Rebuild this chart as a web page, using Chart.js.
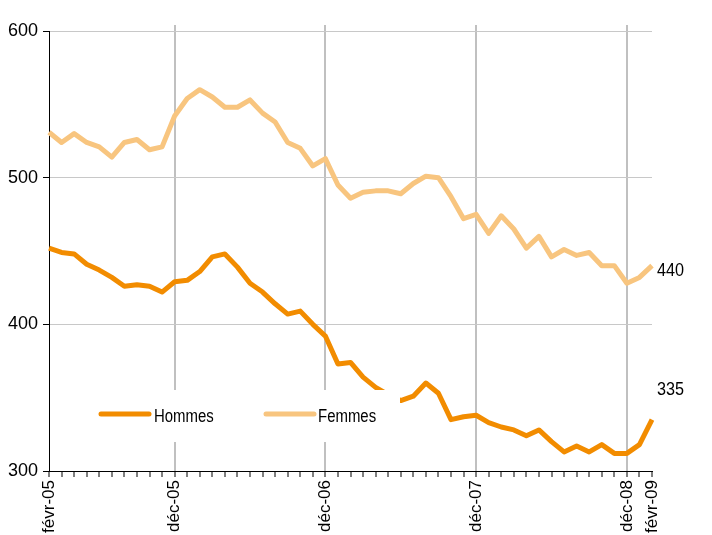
<!DOCTYPE html>
<html>
<head>
<meta charset="utf-8">
<script src="https://cdn.jsdelivr.net/npm/chart.js@4/dist/chart.umd.min.js"></script>
<style>
  html, body { margin: 0; padding: 0; background: #fff; }
  #wrap { width: 712px; height: 535px; }
</style>
</head>
<body>
<div id="wrap"><canvas id="c" width="712" height="535"></canvas></div>
<script>
// Monthly categories from févr-05 to févr-09
const categories = [
 'févr-05','mars-05','avr-05','mai-05','juin-05','juil-05','août-05','sept-05','oct-05','nov-05','déc-05',
 'janv-06','févr-06','mars-06','avr-06','mai-06','juin-06','juil-06','août-06','sept-06','oct-06','nov-06','déc-06',
 'janv-07','févr-07','mars-07','avr-07','mai-07','juin-07','juil-07','août-07','sept-07','oct-07','nov-07','déc-07',
 'janv-08','févr-08','mars-08','avr-08','mai-08','juin-08','juil-08','août-08','sept-08','oct-08','nov-08','déc-08',
 'janv-09','févr-09'
];
const shownLabels = ['févr-05','déc-05','déc-06','déc-07','déc-08','févr-09'];
const gridLabels = ['déc-05','déc-06','déc-07','déc-08'];

const hommes = [452,449,448,441,437,432,426,427,426,422,429,430,436,446,448,439,428,422,414,407,409,400,392,373,374,364,357,352,348,351,360,353,335,337,338,333,330,328,324,328,320,313,317,313,318,312,312,318,335];
const femmes = [531,524,530,524,521,514,524,526,519,521,542,554,560,555,548,548,553,544,538,524,520,508,513,495,486,490,491,491,489,496,501,500,487,472,475,462,474,465,452,460,446,451,447,449,440,440,428,432,440];

const yTicks = [300, 400, 500, 600];

const FONT = '"Liberation Sans", Arial, sans-serif';
const cHommes = '#F28C00';
const cFemmes = '#F8C57F';

function narrowText(ctx, text, x, y, sx) {
  ctx.save();
  ctx.translate(x, y);
  ctx.scale(sx, 1);
  ctx.fillText(text, 0, 0);
  ctx.restore();
}

const overlay = {
  id: 'overlay',
  beforeDatasetsDraw(chart) {
    const ctx = chart.ctx;
    const xs = chart.scales.x;
    const top = chart.chartArea.top;
    ctx.save();
    ctx.strokeStyle = '#c0c0c0';
    ctx.lineWidth = 2;
    categories.forEach((c, i) => {
      if (gridLabels.includes(c)) {
        const x = Math.round(xs.getPixelForValue(i));
        ctx.beginPath(); ctx.moveTo(x, top - 6); ctx.lineTo(x, top); ctx.stroke();
      }
    });
    ctx.restore();
  },
  afterDatasetsDraw(chart) {
    const ctx = chart.ctx;
    const xs = chart.scales.x, ys = chart.scales.y;
    ctx.save();
    // legend box
    ctx.fillStyle = '#ffffff';
    ctx.fillRect(90, 390, 310, 52);
    ctx.lineCap = 'round';
    ctx.lineWidth = 5;
    ctx.strokeStyle = cHommes;
    ctx.beginPath(); ctx.moveTo(101, 414); ctx.lineTo(149, 414); ctx.stroke();
    ctx.strokeStyle = cFemmes;
    ctx.beginPath(); ctx.moveTo(266, 414); ctx.lineTo(314, 414); ctx.stroke();
    ctx.fillStyle = '#000';
    ctx.font = '18px ' + FONT;
    ctx.textBaseline = 'middle';
    ctx.textAlign = 'left';
    narrowText(ctx, 'Hommes', 154, 417, 0.83);
    narrowText(ctx, 'Femmes', 318, 417, 0.83);
    // end value labels
    const last = categories.length - 1;
    const xe = xs.getPixelForValue(last);
    narrowText(ctx, String(femmes[last]), xe + 5, ys.getPixelForValue(femmes[last]) + 5, 0.9);
    narrowText(ctx, String(hommes[last]), xe + 5, ys.getPixelForValue(hommes[last]) - 30, 0.9);
    ctx.restore();
  }
};

new Chart(document.getElementById('c'), {
  type: 'line',
  data: {
    labels: categories,
    datasets: [
      { label: 'Hommes', data: hommes, borderColor: cHommes, borderWidth: 5, pointRadius: 0, tension: 0, borderJoinStyle: 'round', fill: false },
      { label: 'Femmes', data: femmes, borderColor: cFemmes, borderWidth: 5, pointRadius: 0, tension: 0, borderJoinStyle: 'round', fill: false }
    ]
  },
  options: {
    responsive: false,
    animation: false,
    layout: { padding: { top: 31, right: 60, left: 0, bottom: 0 } },
    plugins: { legend: { display: false }, tooltip: { enabled: false } },
    scales: {
      x: {
        type: 'category',
        offset: false,
        border: { color: '#000', width: 1 },
        grid: {
          color: (c) => (c.tick && gridLabels.includes(categories[c.index])) ? '#c0c0c0' : 'rgba(0,0,0,0)',
          lineWidth: 2,
          tickColor: '#000',
          tickWidth: 1,
          tickLength: 6,
          drawTicks: true
        },
        ticks: {
          autoSkip: false,
          minRotation: 90,
          maxRotation: 90,
          padding: 3,
          color: '#000',
          font: { family: FONT, size: 17 },
          callback: function(v, i) { return shownLabels.includes(categories[i]) ? categories[i] : ''; }
        },
        afterFit: (s) => { s.height = 64; }
      },
      y: {
        min: 300, max: 600,
        border: { color: '#000', width: 1 },
        grid: { color: '#c8c8c8', lineWidth: 1, tickColor: '#000', tickLength: 6 },
        afterBuildTicks: (s) => { s.ticks = yTicks.map(v => ({ value: v })); },
        ticks: {
          padding: 5,
          color: '#000',
          font: { family: FONT, size: 18 }
        },
        afterFit: (s) => { s.width = 49; }
      }
    }
  },
  plugins: [overlay]
});
</script>
</body>
</html>
